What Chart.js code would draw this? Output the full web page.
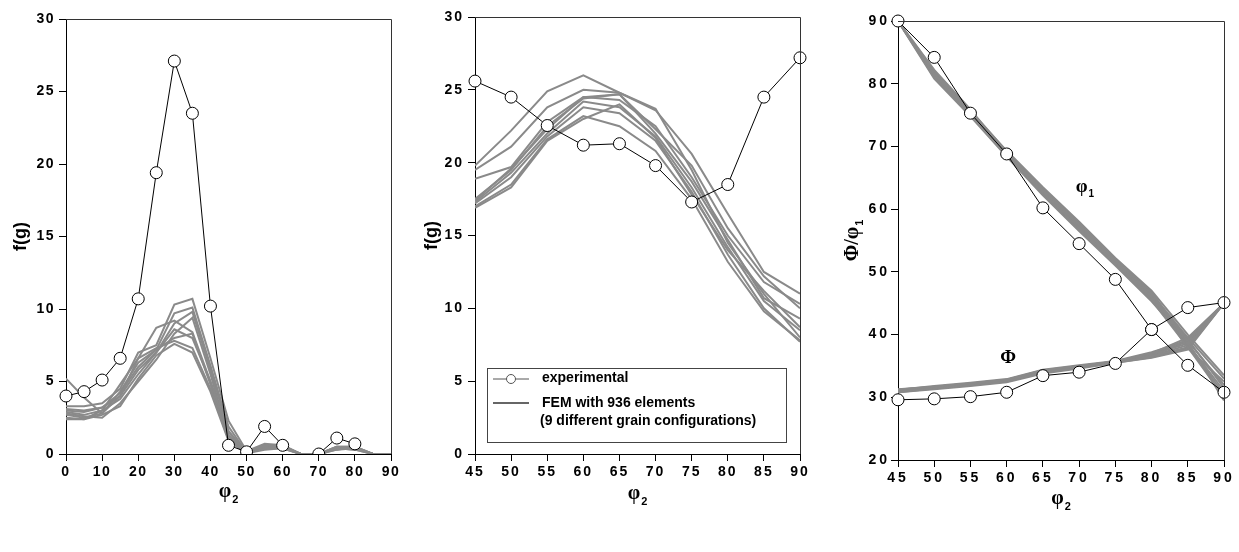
<!DOCTYPE html>
<html>
<head>
<meta charset="utf-8">
<script src="https://cdn.jsdelivr.net/npm/chart.js@4.4.1/dist/chart.umd.min.js"></script>
<style>
  body { margin: 0; background: #fff; }
  canvas { position: absolute; top: 0; }
</style>
</head>
<body>
<canvas id="chartLeft" width="420" height="552" style="left:0px"></canvas>
<canvas id="chartMid" width="410" height="552" style="left:420px"></canvas>
<canvas id="chartRight" width="409" height="552" style="left:830px"></canvas>
<script>
// ---- data ----
const phi2Left = [0, 5, 10, 15, 20, 25, 30, 35, 40, 45, 50, 55, 60, 65, 70, 75, 80, 85, 90];
const expLeft = [4.0, 4.3, 5.1, 6.6, 10.7, 19.4, 27.1, 23.5, 10.2, 0.6, 0.15, 1.9, 0.6, null, 0, 1.1, 0.7, null, null];
const femLeft = [
  [5.2, 3.9, 2.8, 4.0, 6.6, 8.7, 9.2, 8.4, 5.0, 1.5, 0.1, 0.6, 0.5, 0, 0, 0.4, 0.4, 0, 0],
  [3.3, 3.3, 3.5, 4.5, 7.0, 7.5, 10.3, 10.7, 6.6, 2.3, 0.2, 0.7, 0.6, 0, 0, 0.5, 0.5, 0, 0],
  [3.0, 2.9, 3.2, 4.2, 6.0, 7.2, 9.7, 10.1, 6.1, 1.9, 0.1, 0.5, 0.5, 0, 0, 0.4, 0.4, 0, 0],
  [2.9, 2.7, 3.0, 3.8, 5.5, 7.0, 9.0, 9.8, 5.8, 1.6, 0.1, 0.6, 0.4, 0, 0, 0.3, 0.5, 0, 0],
  [2.8, 2.6, 2.5, 3.5, 5.0, 6.5, 8.3, 9.4, 5.5, 1.2, 0.05, 0.4, 0.4, 0, 0, 0.4, 0.3, 0, 0],
  [2.7, 2.5, 2.8, 4.3, 6.3, 7.2, 8.0, 8.3, 4.8, 1.0, 0.1, 0.5, 0.6, 0, 0, 0.5, 0.4, 0, 0],
  [2.5, 2.4, 3.0, 4.8, 6.6, 7.3, 7.8, 7.3, 4.5, 1.0, 0.05, 0.4, 0.5, 0, 0, 0.3, 0.4, 0, 0],
  [2.4, 2.4, 2.7, 3.3, 5.2, 6.8, 7.6, 7.0, 4.3, 0.9, 0.05, 0.3, 0.4, 0, 0, 0.4, 0.3, 0, 0],
  [3.1, 3.0, 3.2, 4.0, 5.8, 7.0, 8.6, 8.0, 5.0, 1.3, 0.1, 0.6, 0.5, 0, 0, 0.5, 0.5, 0, 0]
];

const phi2Right = [45, 50, 55, 60, 65, 70, 75, 80, 85, 90];
const expMid = [25.6, 24.5, 22.55, 21.2, 21.3, 19.8, 17.3, 18.5, 24.5, 27.2];
const femMid = [
  [19.8, 22.2, 24.9, 26.0, 24.8, 23.7, 19.5, 14.5, 11.0, 8.0],
  [19.5, 21.1, 23.8, 25.0, 24.8, 23.6, 20.6, 16.5, 12.5, 11.0],
  [18.9, 19.7, 22.8, 24.5, 24.3, 22.5, 19.0, 15.0, 11.8, 10.3],
  [17.5, 19.5, 22.5, 24.4, 24.7, 22.0, 18.7, 14.7, 10.7, 9.3],
  [17.3, 19.3, 22.0, 24.2, 23.8, 21.8, 18.3, 14.2, 10.5, 8.5],
  [17.2, 19.0, 21.8, 23.8, 23.4, 21.5, 18.0, 13.7, 10.0, 7.7],
  [17.0, 18.5, 21.6, 23.2, 22.5, 20.8, 17.5, 13.2, 9.8, 7.8],
  [16.9, 18.3, 21.5, 23.0, 24.0, 21.7, 17.8, 14.0, 11.2, 8.7],
  [17.4, 19.6, 22.3, 24.5, 24.7, 22.3, 19.8, 15.5, 12.2, 10.0]
];

const expPhi1 = [90, 84.2, 75.3, 68.8, 60.2, 54.5, 48.8, 40.8, 35.1, 30.8];
const expPhi = [29.6, 29.75, 30.1, 30.8, 33.45, 34.0, 35.4, 40.8, 44.3, 45.1];
const femPhi1 = [
  [90, 81.5, 75.5, 69.0, 63.0, 57.5, 51.8, 46.5, 39.5, 33.0],
  [90, 81.0, 75.2, 68.7, 62.7, 57.0, 51.5, 46.0, 39.0, 32.0],
  [90, 82.0, 75.8, 69.2, 63.3, 57.8, 52.0, 46.8, 38.5, 31.0],
  [90, 81.2, 75.0, 68.5, 62.5, 56.8, 51.2, 45.5, 38.0, 30.0],
  [90, 81.8, 75.6, 69.3, 63.5, 58.0, 52.2, 47.0, 40.0, 33.5],
  [90, 80.8, 74.8, 68.4, 62.2, 56.5, 51.0, 45.3, 38.8, 29.5],
  [90, 81.6, 75.4, 68.9, 62.9, 57.3, 51.6, 46.2, 39.2, 31.5],
  [90, 81.3, 75.3, 69.1, 63.1, 57.6, 51.9, 46.6, 37.8, 32.5],
  [90, 82.2, 75.9, 68.6, 62.6, 57.1, 51.4, 45.8, 38.3, 30.5]
];
const femPhi = [
  [31.3, 31.7, 32.2, 32.8, 34.3, 35.0, 35.7, 37.0, 39.5, 45],
  [31.0, 31.5, 32.0, 32.6, 34.0, 34.8, 35.6, 36.5, 38.0, 45],
  [30.8, 31.4, 31.9, 32.5, 33.9, 34.7, 35.5, 36.3, 37.6, 45],
  [31.2, 31.8, 32.3, 32.9, 34.4, 35.1, 35.8, 37.2, 39.0, 45],
  [30.9, 31.5, 32.1, 32.7, 34.2, 34.9, 35.6, 36.8, 38.6, 45],
  [31.1, 31.6, 32.1, 32.6, 34.1, 34.9, 35.7, 36.6, 38.3, 45],
  [30.8, 31.3, 31.8, 32.4, 33.8, 34.6, 35.5, 36.4, 37.8, 45],
  [31.2, 31.7, 32.2, 32.8, 34.2, 35.0, 35.7, 36.9, 39.2, 45],
  [31.0, 31.5, 32.0, 32.7, 34.1, 34.8, 35.6, 36.7, 38.9, 45]
];

// ---- helpers ----
const GRAY = "#8a8a8a";
const sans = "Arial, 'Liberation Sans', sans-serif";
const serif = "'Times New Roman', 'Liberation Serif', 'DejaVu Serif', serif";
const tickFont = { family: sans, weight: "bold", size: 14 };

const pts = (xs, ys) => xs.map((x, i) => ({ x: x, y: ys[i] }));

const expSet = (xs, ys) => ({
  data: pts(xs, ys),
  borderColor: "#000",
  borderWidth: 1,
  pointRadius: 6,
  pointBackgroundColor: "#fff",
  pointBorderColor: "#000",
  pointBorderWidth: 1,
  spanGaps: false,
  order: 0,
  clip: { left: 10, right: 10, top: 10, bottom: 0 },
});

const femSet = (xs, ys) => ({
  data: pts(xs, ys),
  borderColor: GRAY,
  borderWidth: 2,
  pointRadius: 0,
  order: 1,
});

const axis = (min, max, step, size, pad, isX) => ({
  type: "linear",
  min: min,
  max: max,
  z: isX ? 1 : 0,
  afterFit: (s) => {
    if (isX) s.height = size;
    else s.width = size;
  },
  ticks: { stepSize: step, color: "#000", font: tickFont, padding: pad, maxRotation: 0, autoSkip: false },
  grid: { drawOnChartArea: false, drawTicks: true, tickLength: 7, color: "#000" },
  border: { display: true, color: "#000", width: 1 },
  title: { display: false },
});

// text with optional subscript, centred on (x, y)
const drawLabel = (ctx, parts, x, y, rotate) => {
  ctx.save();
  ctx.letterSpacing = "0px";
  ctx.translate(x, y);
  if (rotate) ctx.rotate(-Math.PI / 2);
  ctx.fillStyle = "#000";
  ctx.textBaseline = "middle";
  ctx.textAlign = "left";
  let total = 0;
  parts.forEach((p) => {
    ctx.font = p.font;
    p.w = ctx.measureText(p.t).width + (p.gap || 0);
    total += p.w;
  });
  let cx = -total / 2;
  parts.forEach((p) => {
    ctx.font = p.font;
    ctx.fillText(p.t, cx + (p.gap || 0), p.dy || 0);
    cx += p.w;
  });
  ctx.restore();
};

const phiParts = (big, sub, size) => [
  { t: big, font: "bold " + size + "px " + serif },
  { t: sub, font: "bold " + Math.round(size * 0.55) + "px " + sans, dy: size * 0.38, gap: 1 },
];

// spaced tick digits, frame box and axis titles
const decoPlugin = (spacing, titles) => ({
  id: "deco",
  beforeDraw(chart) {
    chart.ctx.letterSpacing = spacing + "px";
  },
  afterDraw(chart) {
    const a = chart.chartArea;
    const ctx = chart.ctx;
    ctx.save();
    ctx.strokeStyle = "#333";
    ctx.lineWidth = 1;
    ctx.beginPath();
    ctx.moveTo(a.left, a.top + 0.5);
    ctx.lineTo(a.right + 0.5, a.top + 0.5);
    ctx.lineTo(a.right + 0.5, a.bottom);
    ctx.stroke();
    ctx.restore();
    const midX = (a.left + a.right) / 2;
    const midY = (a.top + a.bottom) / 2;
    drawLabel(ctx, titles.x, midX, titles.xPos, false);
    drawLabel(ctx, titles.y, titles.yPos, midY, true);
  },
});

const makeChart = (id, datasets, xAxis, yAxis, padding, deco, extra) =>
  new Chart(document.getElementById(id), {
    type: "line",
    data: { datasets: datasets },
    options: {
      responsive: false,
      animation: false,
      devicePixelRatio: 1,
      layout: { padding: padding },
      plugins: { legend: { display: false }, tooltip: { enabled: false } },
      scales: { x: xAxis, y: yAxis },
    },
    plugins: [deco].concat(extra || []),
  });

const fgTitle = [{ t: "f(g)", font: "bold 18px " + sans }];

// ---- left panel ----
makeChart(
  "chartLeft",
  [expSet(phi2Left, expLeft)].concat(femLeft.map((s) => femSet(phi2Left, s))),
  axis(0, 90, 10, 98, 3, true),
  axis(0, 30, 5, 66, 4, false),
  { top: 19, right: 29, left: 0, bottom: 0 },
  decoPlugin(1.5, { x: phiParts("φ", "2", 20), xPos: 492, y: fgTitle, yPos: 21 })
);

// ---- middle panel with legend ----
const legendPlugin = {
  id: "boxLegend",
  afterDraw(chart) {
    const a = chart.chartArea;
    const ctx = chart.ctx;
    const L = a.left + 12, R = a.right - 14, T = a.bottom - 86, B = a.bottom - 12;
    ctx.save();
    ctx.letterSpacing = "0px";
    ctx.fillStyle = "#fff";
    ctx.fillRect(L, T, R - L, B - T);
    ctx.strokeStyle = "#444";
    ctx.lineWidth = 1;
    ctx.strokeRect(L + 0.5, T + 0.5, R - L, B - T);
    // experimental
    let y = T + 11;
    ctx.strokeStyle = "#555";
    ctx.beginPath();
    ctx.moveTo(L + 6, y);
    ctx.lineTo(L + 42, y);
    ctx.stroke();
    ctx.beginPath();
    ctx.arc(L + 24, y, 4.5, 0, Math.PI * 2);
    ctx.fillStyle = "#fff";
    ctx.fill();
    ctx.stroke();
    ctx.fillStyle = "#000";
    ctx.font = "bold 14px " + sans;
    ctx.textBaseline = "middle";
    ctx.fillText("experimental", L + 55, y - 1);
    // FEM
    y = T + 35;
    ctx.strokeStyle = "#666";
    ctx.lineWidth = 2;
    ctx.beginPath();
    ctx.moveTo(L + 6, y);
    ctx.lineTo(L + 42, y);
    ctx.stroke();
    ctx.fillText("FEM with 936 elements", L + 55, y);
    ctx.fillText("(9 different grain configurations)", L + 53, y + 18);
    ctx.restore();
  },
};

makeChart(
  "chartMid",
  [expSet(phi2Right, expMid)].concat(femMid.map((s) => femSet(phi2Right, s))),
  axis(45, 90, 5, 98, 3, true),
  axis(0, 30, 5, 55, 4, false),
  { top: 17, right: 30, left: 0, bottom: 0 },
  decoPlugin(2, { x: phiParts("φ", "2", 20), xPos: 494, y: fgTitle, yPos: 12 }),
  [legendPlugin]
);

// ---- right panel ----
const curveLabels = [
  { big: "φ", sub: "1", x: 70.8, y: 63.5 },
  { big: "Φ", sub: "", x: 60.2, y: 36.2 },
];
const curveLabelPlugin = {
  id: "curveLabels",
  afterDatasetsDraw(chart) {
    curveLabels.forEach((l) => {
      const parts = l.sub ? phiParts(l.big, l.sub, 19) : [{ t: l.big, font: "bold 19px " + serif }];
      drawLabel(chart.ctx, parts, chart.scales.x.getPixelForValue(l.x), chart.scales.y.getPixelForValue(l.y), false);
    });
  },
};

makeChart(
  "chartRight",
  [expSet(phi2Right, expPhi1), expSet(phi2Right, expPhi)]
    .concat(femPhi1.map((s) => femSet(phi2Right, s)))
    .concat(femPhi.map((s) => femSet(phi2Right, s))),
  axis(45, 90, 5, 92, 3, true),
  axis(20, 90, 10, 68, 1, false),
  { top: 21, right: 15, left: 0, bottom: 0 },
  decoPlugin(3, {
    x: phiParts("φ", "2", 20),
    xPos: 499,
    y: [{ t: "Φ/φ", font: "bold 20px " + serif }, { t: "1", font: "bold 11px " + sans, dy: 7, gap: 1 }],
    yPos: 23,
  }),
  [curveLabelPlugin]
);
</script>
</body>
</html>
